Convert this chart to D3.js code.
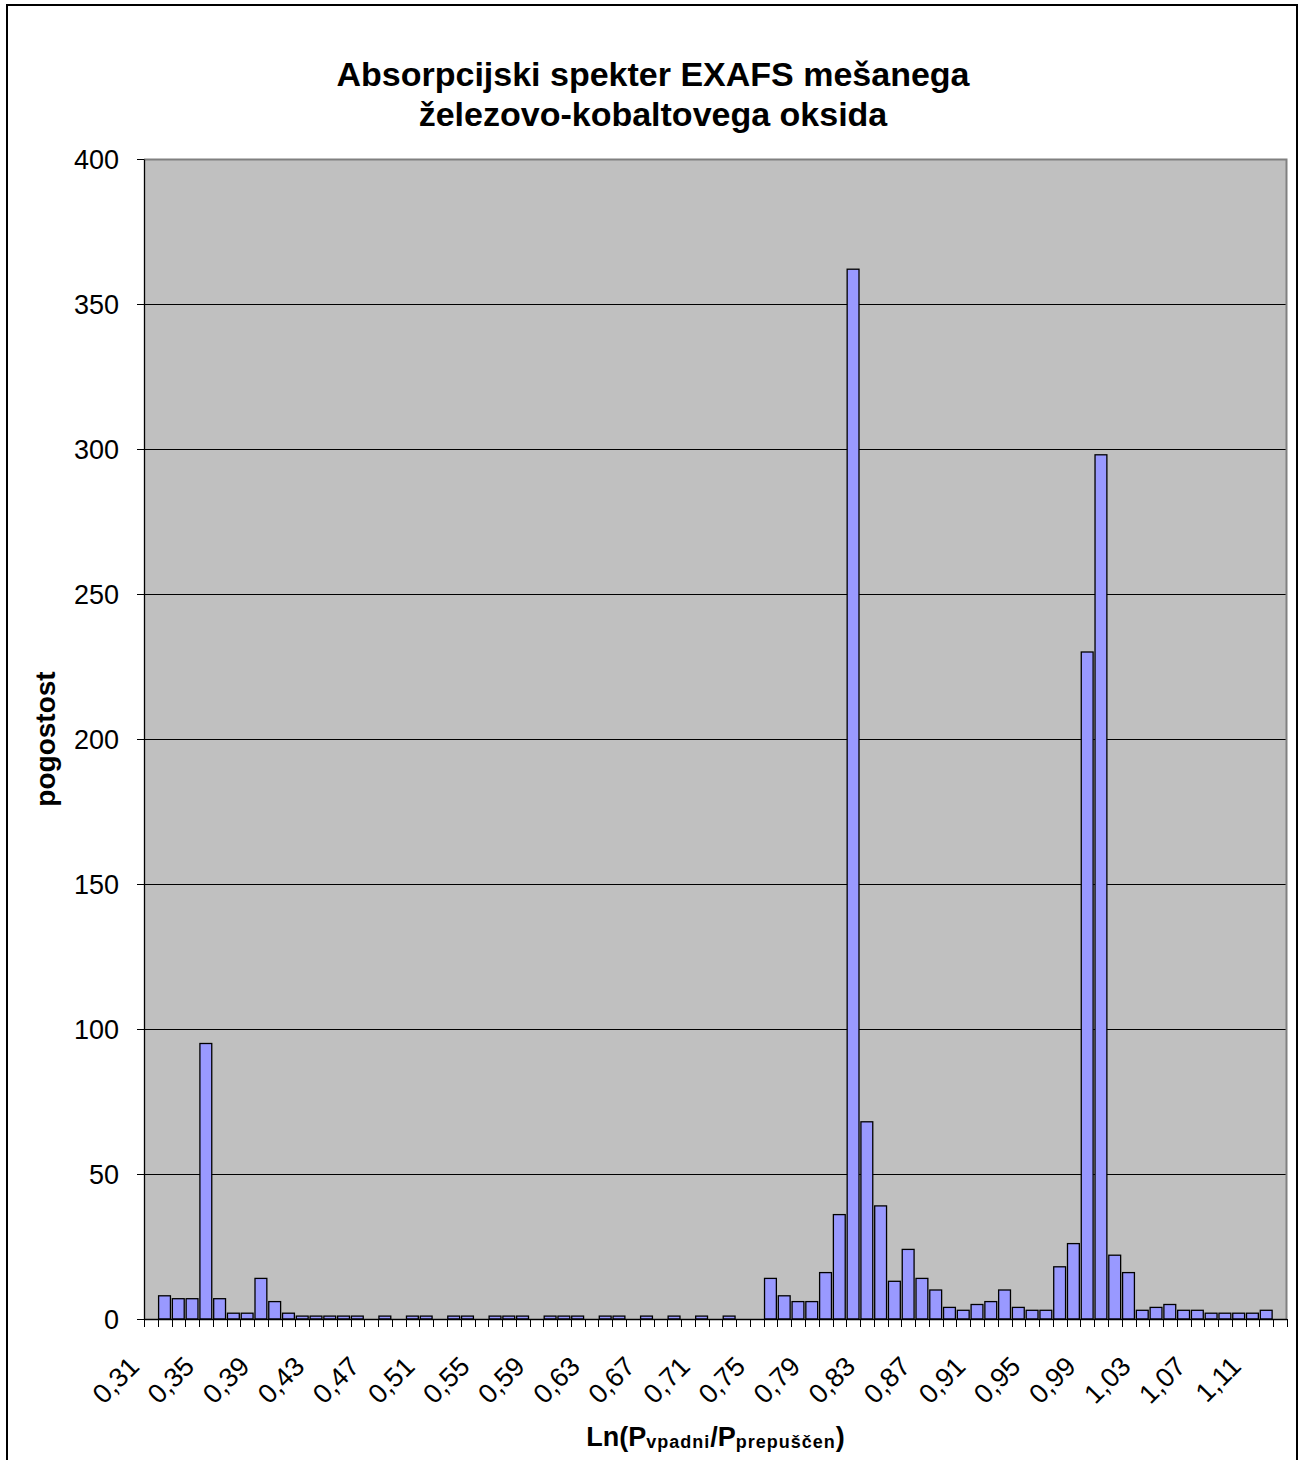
<!DOCTYPE html>
<html>
<head>
<meta charset="utf-8">
<script src="https://cdn.jsdelivr.net/npm/d3@7"></script>
<style>
   body { margin: 0; background: #fff; }
   svg { display: block; }
   text { font-family: 'Liberation Sans', Arial, sans-serif; fill: #000; }
</style>
</head>
<body>
<div id="chart"></div>
<script>
// Ln(P vpadni / P prepuscen) classes
const categories = [
   '0,31', '0,32', '0,33', '0,34', '0,35', '0,36', '0,37', '0,38', '0,39', '0,40',
   '0,41', '0,42', '0,43', '0,44', '0,45', '0,46', '0,47', '0,48', '0,49', '0,50',
   '0,51', '0,52', '0,53', '0,54', '0,55', '0,56', '0,57', '0,58', '0,59', '0,60',
   '0,61', '0,62', '0,63', '0,64', '0,65', '0,66', '0,67', '0,68', '0,69', '0,70',
   '0,71', '0,72', '0,73', '0,74', '0,75', '0,76', '0,77', '0,78', '0,79', '0,80',
   '0,81', '0,82', '0,83', '0,84', '0,85', '0,86', '0,87', '0,88', '0,89', '0,90',
   '0,91', '0,92', '0,93', '0,94', '0,95', '0,96', '0,97', '0,98', '0,99', '1,00',
   '1,01', '1,02', '1,03', '1,04', '1,05', '1,06', '1,07', '1,08', '1,09', '1,10',
   '1,11', '1,12', '1,13',
]

// pogostost
const counts = [
   0, 8, 7, 7, 95, 7, 2, 2, 14, 6,
   2, 1, 1, 1, 1, 1, 0, 1, 0, 1,
   1, 0, 1, 1, 0, 1, 1, 1, 0, 1,
   1, 1, 0, 1, 1, 0, 1, 0, 1, 0,
   1, 0, 1, 0, 0, 14, 8, 6, 6, 16,
   36, 362, 68, 39, 13, 24, 14, 10, 4, 3,
   5, 6, 10, 4, 3, 3, 18, 26, 230, 298,
   22, 16, 3, 4, 5, 3, 3, 2, 2, 2,
   2, 3, 0,
]

const xTickLabels = [
   '0,31', '0,35', '0,39', '0,43', '0,47', '0,51', '0,55', '0,59', '0,63', '0,67',
   '0,71', '0,75', '0,79', '0,83', '0,87', '0,91', '0,95', '0,99', '1,03', '1,07', '1,11',
]
const yTicks = [0, 50, 100, 150, 200, 250, 300, 350, 400]

const width = 1299
const height = 1460
const plot = { left: 144, top: 159, right: 1287, bottom: 1319 }

const svg = d3
   .select('#chart')
   .append('svg')
   .attr('width', width)
   .attr('height', height)

// outer chart frame (bottom edge falls outside the picture)
svg.append('rect')
   .attr('x', 7)
   .attr('y', 5)
   .attr('width', 1290)
   .attr('height', 1480)
   .attr('fill', '#fff')
   .attr('stroke', '#000')
   .attr('stroke-width', 2)

const x = d3.scaleBand().domain(categories).range([plot.left, plot.right])
const y = d3.scaleLinear().domain([0, 400]).range([plot.bottom, plot.top])
const bw = x.bandwidth()

// plot area
svg.append('rect')
   .attr('x', plot.left)
   .attr('y', plot.top)
   .attr('width', plot.right - plot.left)
   .attr('height', plot.bottom - plot.top)
   .attr('fill', '#c0c0c0')

svg.append('g')
   .selectAll('line')
   .data(yTicks.filter(d => d > 0 && d < 400))
   .enter()
   .append('line')
   .attr('x1', plot.left)
   .attr('x2', plot.right)
   .attr('y1', d => Math.round(y(d)) + 0.5)
   .attr('y2', d => Math.round(y(d)) + 0.5)
   .attr('stroke', '#000')
   .attr('stroke-width', 1)

// gray border top + right
svg.append('path')
   .attr('d', `M${plot.left},${plot.top + 0.5}H${plot.right - 0.5}V${plot.bottom}`)
   .attr('fill', 'none')
   .attr('stroke', '#808080')
   .attr('stroke-width', 2)

// bars
svg.append('g')
   .selectAll('rect')
   .data(categories.map((c, i) => ({ c, v: counts[i] })).filter(d => d.v > 0))
   .enter()
   .append('rect')
   .attr('x', d => x(d.c) + bw * 0.06)
   .attr('width', bw * 0.86)
   .attr('y', d => y(d.v))
   .attr('height', d => y(0) - y(d.v))
   .attr('fill', '#9999ff')
   .attr('stroke', '#000')
   .attr('stroke-width', 1.3)

// y axis
const yAxis = svg.append('g')
   .attr('transform', `translate(${plot.left},0)`)
   .call(d3.axisLeft(y).tickValues(yTicks).tickSize(7).tickSizeOuter(0).tickPadding(18))
yAxis.select('.domain').attr('stroke', '#000').attr('stroke-width', 1.3)
yAxis.selectAll('line').attr('stroke', '#000')
yAxis.selectAll('text')
   .attr('font-size', 27)
   .attr('font-family', "'Liberation Sans', Arial, sans-serif")
   .attr('dy', '0.36em')

// x axis line + ticks on category boundaries
svg.append('line')
   .attr('x1', plot.left)
   .attr('x2', plot.right)
   .attr('y1', plot.bottom + 0.5)
   .attr('y2', plot.bottom + 0.5)
   .attr('stroke', '#000')
   .attr('stroke-width', 1.3)

svg.append('g')
   .selectAll('line')
   .data(categories.map(c => x(c)).concat([plot.right]))
   .enter()
   .append('line')
   .attr('x1', d => Math.round(d) + 0.5)
   .attr('x2', d => Math.round(d) + 0.5)
   .attr('y1', plot.bottom)
   .attr('y2', plot.bottom + 8)
   .attr('stroke', '#000')
   .attr('stroke-width', 1)

svg.append('g')
   .selectAll('text')
   .data(xTickLabels)
   .enter()
   .append('text')
   .attr('transform', d => `translate(${x(d) + bw / 2 - 10},${plot.bottom + 49}) rotate(-45)`)
   .attr('text-anchor', 'end')
   .attr('font-size', 27)
   .text(d => d)

// titles
const title = svg.append('text')
   .attr('text-anchor', 'middle')
   .attr('font-size', 34)
   .attr('font-weight', 'bold')
title.append('tspan').attr('x', 653).attr('y', 86).text('Absorpcijski spekter EXAFS mešanega')
title.append('tspan').attr('x', 653).attr('y', 126).text('železovo-kobaltovega oksida')

svg.append('text')
   .attr('transform', `translate(55,${(plot.top + plot.bottom) / 2}) rotate(-90)`)
   .attr('text-anchor', 'middle')
   .attr('font-size', 28)
   .attr('font-weight', 'bold')
   .text('pogostost')

const xTitle = svg.append('text')
   .attr('x', (plot.left + plot.right) / 2)
   .attr('y', 1446)
   .attr('text-anchor', 'middle')
   .attr('font-size', 27)
   .attr('font-weight', 'bold')
xTitle.append('tspan').text('Ln(P')
xTitle.append('tspan').attr('font-size', 18).attr('letter-spacing', 1).attr('dy', 2).text('vpadni')
xTitle.append('tspan').attr('dy', -2).text('/P')
xTitle.append('tspan').attr('font-size', 18).attr('letter-spacing', 1).attr('dy', 2).text('prepuščen')
xTitle.append('tspan').attr('dy', -2).text(')')
</script>
</body>
</html>
